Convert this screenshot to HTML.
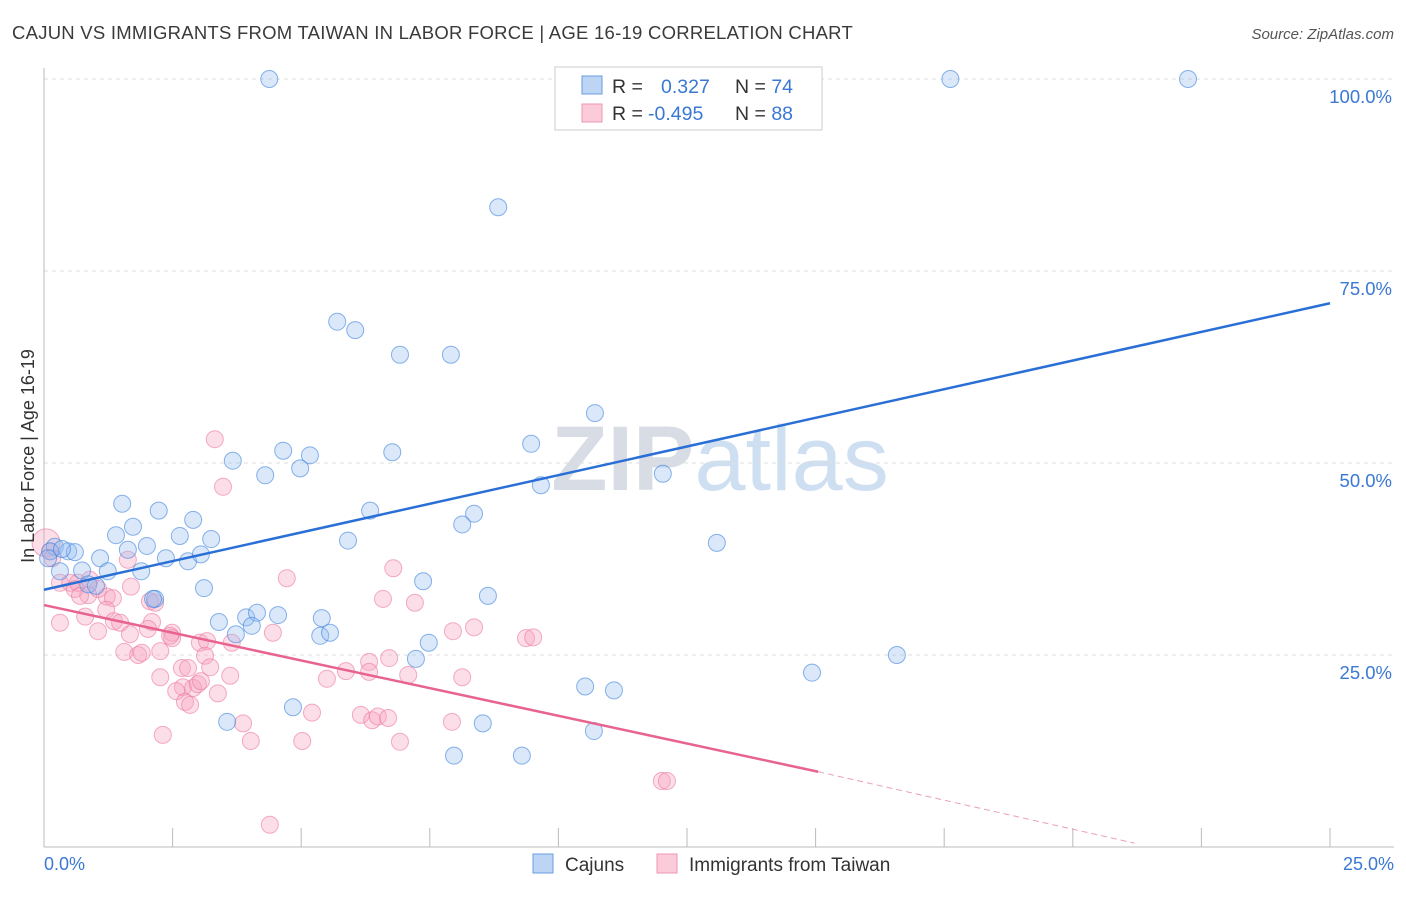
<!DOCTYPE html>
<html><head><meta charset="utf-8"><style>
body{margin:0;background:#fff;font-family:"Liberation Sans",sans-serif}
svg text{font-family:"Liberation Sans",sans-serif}
</style></head><body>
<svg id="c" width="1406" height="892" xmlns="http://www.w3.org/2000/svg">
<text x="12" y="39" font-size="18.5" fill="#3a3a3a" letter-spacing="0.25">CAJUN VS IMMIGRANTS FROM TAIWAN IN LABOR FORCE | AGE 16-19 CORRELATION CHART</text>
<text x="1394" y="39" font-size="15" fill="#555" text-anchor="end" font-style="italic">Source: ZipAtlas.com</text>
<text x="720" y="490" font-size="92" fill="#dde6f0" text-anchor="middle" font-family="Liberation Serif"><tspan font-weight="bold" fill="#d8dde5">ZIP</tspan><tspan font-family="Liberation Sans" fill="#cfdff2">atlas</tspan></text>
<g id="grid"></g><g id="pts"></g><g id="lines"></g>
<text transform="translate(34,456) rotate(-90)" font-size="18" fill="#333" text-anchor="middle">In Labor Force | Age 16-19</text>
<text x="44" y="870" font-size="18" fill="#3a78d4">0.0%</text>
<text x="1394" y="870" font-size="18" fill="#3a78d4" text-anchor="end">25.0%</text>
<g>
<rect x="555" y="67" width="267" height="63" fill="#fff" stroke="#ccc"/>
<rect x="582" y="76" width="20" height="18" fill="#bcd5f5" stroke="#6a9be0"/>
<rect x="582" y="104" width="20" height="18" fill="#fbcbd9" stroke="#ee94b0"/>
<text x="612" y="93" font-size="19.5" fill="#333">R = <tspan x="661" fill="#3a78d4">0.327</tspan><tspan x="735" fill="#333">N = </tspan><tspan fill="#3a78d4">74</tspan></text>
<text x="612" y="120" font-size="19.5" fill="#333">R = <tspan x="648" fill="#3a78d4">-0.495</tspan><tspan x="735" fill="#333">N = </tspan><tspan fill="#3a78d4">88</tspan></text>
</g>
<g>
<rect x="533" y="854" width="20" height="19" fill="#bcd5f5" stroke="#6a9be0"/>
<text x="565" y="871" font-size="19" fill="#333">Cajuns</text>
<rect x="657" y="854" width="20" height="19" fill="#fbcbd9" stroke="#ee94b0"/>
<text x="689" y="871" font-size="19" fill="#333">Immigrants from Taiwan</text>
</g>
</svg>
<script>
const yTicks=[25,50,75,100];
const yTickLabels=["25.0%","50.0%","75.0%","100.0%"];
const xTicks=[0,2.5,5,7.5,10,12.5,15,17.5,20,22.5,25];
const cajunX=[4.38,17.62,22.24,8.83,5.70,6.05,6.92,7.91,10.71,9.47,4.65,5.17,6.77,3.67,4.30,4.98,12.03,9.66,1.52,2.23,6.34,8.36,2.90,8.13,1.73,1.40,2.64,3.25,5.91,13.08,0.21,0.47,0.60,2.00,1.63,1.09,2.37,2.80,3.05,0.74,1.24,1.89,0.31,0.86,3.11,7.37,8.63,2.16,3.40,3.93,4.14,4.55,5.40,4.04,3.73,5.37,5.56,7.48,7.23,4.84,10.52,11.08,14.93,16.58,3.56,8.53,10.69,7.97,9.29,0.12,0.08,0.35,1.01,2.12];
const cajunY=[100,100,100,83.3,68.4,67.3,64.1,64.1,56.5,52.5,51.6,51.0,51.4,50.3,48.4,49.3,48.6,47.1,44.7,43.8,43.8,43.4,42.6,42.0,41.7,40.6,40.5,40.1,39.9,39.6,39.1,38.5,38.4,39.2,38.7,37.6,37.6,37.2,38.1,36.0,35.9,35.9,35.9,34.2,33.7,34.6,32.7,32.3,29.3,29.9,30.5,30.2,29.8,28.8,27.7,27.5,27.9,26.6,24.5,18.2,20.9,20.4,22.7,25.0,16.3,16.1,15.1,11.9,11.9,38.5,37.6,38.8,34.0,32.3];
const taiwanX=[0.04,0.12,0.16,0.31,0.51,0.60,0.66,0.89,1.05,0.86,0.70,1.22,1.34,0.31,0.80,1.05,1.21,1.36,1.48,1.69,1.63,2.06,2.16,1.67,1.56,1.83,1.90,2.10,2.02,2.26,2.49,2.49,2.68,2.26,2.70,2.57,2.80,2.90,2.99,3.03,3.17,3.13,3.23,3.05,3.32,3.48,2.74,2.84,2.31,3.38,3.62,3.65,3.87,4.02,4.39,4.45,4.72,5.02,5.21,5.50,5.87,6.16,6.38,6.49,6.69,6.32,6.32,6.71,6.59,6.79,7.21,6.92,7.08,7.95,8.13,8.36,7.93,9.37,9.51,12.01,12.11,2.45];
const taiwanY=[39.6,38.5,37.6,34.4,34.4,33.6,34.4,34.8,33.6,32.8,32.7,32.6,32.4,29.2,30.0,28.1,30.9,29.4,29.2,33.9,37.4,32.0,31.8,27.7,25.4,25.0,25.3,29.3,28.4,25.5,27.9,27.2,23.3,22.1,20.8,20.3,23.3,20.7,21.2,26.6,26.8,24.9,23.4,21.6,53.1,46.9,18.9,18.5,14.6,20.0,22.3,26.6,16.1,13.8,2.9,27.9,35.0,13.8,17.5,21.9,22.9,17.2,16.5,17.0,16.8,24.1,22.8,24.6,32.3,36.3,31.8,13.7,22.4,28.1,22.1,28.6,16.3,27.2,27.3,8.6,8.6,27.5];
const blueLine=[[0,33.5],[25,70.8]];
const pinkLine=[[0,31.5],[15.05,9.8]];
const pinkDash=[[15.05,9.8],[21.2,0.5]];
const X=v=>44+v*51.44, Y=v=>847-v*7.68;
const NS="http://www.w3.org/2000/svg";
const mk=(t,a,p)=>{const e=document.createElementNS(NS,t);for(const k in a)e.setAttribute(k,a[k]);p.appendChild(e);return e;};
const g=document.getElementById('grid');
yTicks.forEach((t,i)=>{
 const l=mk('line',{x1:44,x2:1394,y1:Y(t),y2:Y(t),stroke:'#ddd','stroke-dasharray':'4,4'},g);
 
 
 const tx=mk('text',{x:1392,y:Y(t)+24,'font-size':18.5,fill:'#3a78d4','text-anchor':'end'},g);
 tx.textContent=yTickLabels[i];
 
 
});
const ax=mk('line',{x1:44,x2:44,y1:68,y2:847,stroke:'#bbb'},g);


const bx=mk('line',{x1:44,x2:1394,y1:847,y2:847,stroke:'#bbb'},g);


xTicks.forEach(t=>{const l=mk('line',{x1:X(t),x2:X(t),y1:828,y2:847,stroke:'#bbb'},g);
 
 });
const p=document.getElementById('pts');
taiwanX.forEach((x,i)=>{const c=mk('circle',{cx:X(x),cy:Y(taiwanY[i]),r:i==0?14:8.5,fill:'rgba(246,160,188,0.35)',stroke:'rgba(236,120,160,0.6)','stroke-width':1},p);
 
 });
cajunX.forEach((x,i)=>{const c=mk('circle',{cx:X(x),cy:Y(cajunY[i]),r:8.5,fill:'rgba(150,190,240,0.35)',stroke:'rgba(60,130,220,0.6)','stroke-width':1},p);
 
 });
const L=document.getElementById('lines');
const a=mk('line',{x1:X(blueLine[0][0]),y1:Y(blueLine[0][1]),x2:X(blueLine[1][0]),y2:Y(blueLine[1][1]),stroke:'#2a6fd6','stroke-width':2.5},L);


const b=mk('line',{x1:X(pinkLine[0][0]),y1:Y(pinkLine[0][1]),x2:X(pinkLine[1][0]),y2:Y(pinkLine[1][1]),stroke:'#e8648f','stroke-width':2.5},L);


const d=mk('line',{x1:X(pinkDash[0][0]),y1:Y(pinkDash[0][1]),x2:X(pinkDash[1][0]),y2:Y(pinkDash[1][1]),stroke:'#e8a0b8','stroke-width':1,'stroke-dasharray':'6,4'},L);


</script>
</body></html>
